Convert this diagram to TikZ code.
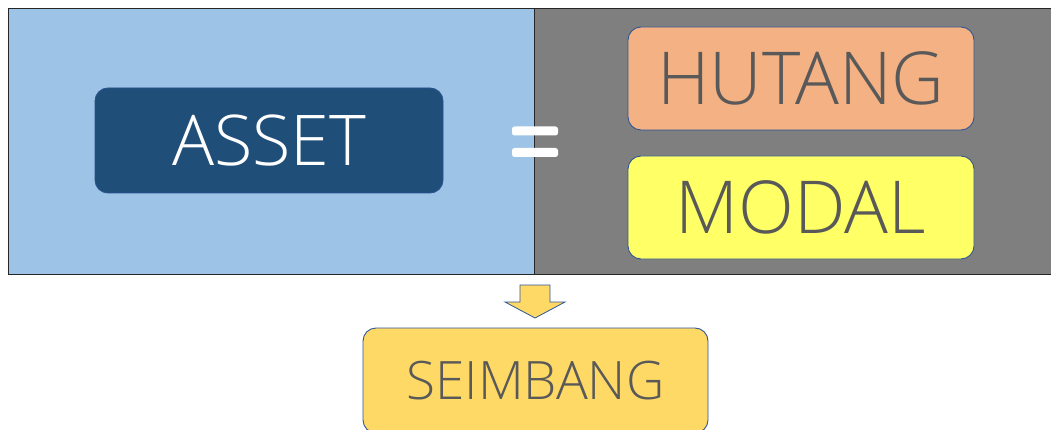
\documentclass[tikz,border=0pt]{standalone}
\usepackage{fontspec}
\setmainfont{Open Sans}[UprightFont={* Light}]
\definecolor{leftbg}{HTML}{9DC3E6}
\definecolor{rightbg}{HTML}{7F7F7F}
\definecolor{assetc}{HTML}{1F4E79}
\definecolor{hutangc}{HTML}{F4B183}
\definecolor{modalc}{HTML}{FFFF66}
\definecolor{seimc}{HTML}{FFD966}
\definecolor{txtgray}{HTML}{595959}
\definecolor{edgeblue}{HTML}{2F5597}
\definecolor{panelline}{HTML}{262626}
\tikzset{
  panel/.style={draw=panelline, line width=1.5pt},
  card/.style={rectangle, rounded corners=13pt, draw=edgeblue, line width=0.9pt,
    minimum width=346pt, minimum height=103pt, inner sep=0pt, text=txtgray,
    font=\fontsize{73}{73}\selectfont},
  eqbar/.style={fill=white, rounded corners=2.5pt},
}
\begin{document}
\begin{tikzpicture}[x=1pt,y=-1pt]
\useasboundingbox (0,0) rectangle (1051,430);
% panels
\draw[panel, fill=leftbg] (8.5,8.5) rectangle (534.5,274.5);
\fill[rightbg] (534.5,8.5) rectangle (1053,274.5);
\draw[panel] (534.5,274.5) -- (534.5,8.5) -- (1053,8.5);
\draw[panel] (534.5,274.5) -- (1053,274.5);
% boxes
\node[card, fill=assetc, text=white, draw=edgeblue!70!assetc, minimum width=348pt, minimum height=105pt, font=\fontsize{70}{70}\selectfont] (asset) at (269,140.5) {ASSET};
\node[card, fill=hutangc] (hutang) at (801,78.5) {HUTANG};
\node[card, fill=modalc] (modal) at (801,207.5) {MODAL};
\node[card, fill=seimc, minimum width=345pt, minimum height=105pt, font=\fontsize{53}{53}\selectfont] (seimbang) at (535.5,380.5) {SEIMBANG};
% equals sign
\fill[eqbar] (512,126.5) rectangle (558,135.5);
\fill[eqbar] (512,148) rectangle (558,157);
% down arrow
\draw[fill=seimc, draw=edgeblue, line width=0.8pt, line join=miter]
  (520,285) -- (550,285) -- (550,302) -- (565,302) -- (535,318) -- (505,302) -- (520,302) -- cycle;
\end{tikzpicture}
\end{document}
